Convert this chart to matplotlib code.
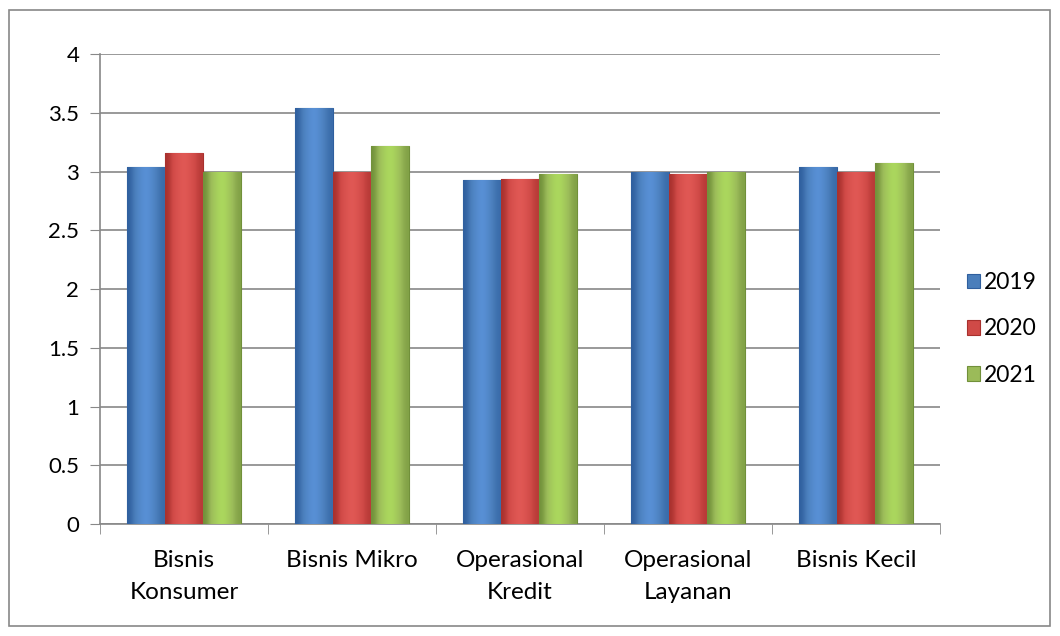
import numpy as np
import matplotlib.pyplot as plt
from matplotlib.patches import Rectangle
from matplotlib.colors import LinearSegmentedColormap

categories = ["Bisnis\nKonsumer", "Bisnis Mikro", "Operasional\nKredit", "Operasional\nLayanan", "Bisnis Kecil"]
years = ["2019", "2020", "2021"]
v2019 = [3.04, 3.54, 2.93, 3.0, 3.04]
v2020 = [3.16, 3.0, 2.94, 2.98, 3.0]
v2021 = [3.0, 3.22, 2.98, 3.0, 3.07]
yticks = [0, 0.5, 1, 1.5, 2, 2.5, 3, 3.5, 4]

colors = ["#4a7ebb", "#d04a47", "#9bbb59"]
dark = ["#2f5f9e", "#a8302d", "#71903a"]
light = ["#5a92d8", "#e25a56", "#addb5e"]

plt.rcParams['font.family'] = ['Lato', 'DejaVu Sans']

fig = plt.figure(figsize=(10.6, 6.36), dpi=100)
ax = fig.add_axes([100/1060, 1 - 524/636, 840/1060, 470/636])

# outer chart border
fig.patches.append(Rectangle((9/1060, 10/636), 1041/1060, 616/636, transform=fig.transFigure,
                             fill=False, edgecolor="#888888", linewidth=1.2))

ax.set_xlim(-0.5, len(categories) - 0.5)
ax.set_ylim(0, 4)

x = np.arange(len(categories))
w = 0.225
grad = np.array([[0.0, 0.55, 0.8, 1.0, 0.8, 0.5, 0.2]])
for i, (vals, c, d, l, lab) in enumerate(zip([v2019, v2020, v2021], colors, dark, light, years)):
    bars = ax.bar(x + (i - 1) * w, vals, width=w, color=c, edgecolor=d, linewidth=0.8, label=lab, zorder=3)
    cmap = LinearSegmentedColormap.from_list("g%d" % i, [d, c, l])
    for b in bars:
        x0, y0 = b.get_x(), b.get_y()
        im = ax.imshow(grad, cmap=cmap, vmin=0, vmax=1, aspect='auto', interpolation='bicubic',
                       extent=[x0, x0 + b.get_width(), y0, y0 + b.get_height()], zorder=3.5)
        im.set_clip_path(b)

ax.set_xlim(-0.5, len(categories) - 0.5)
ax.set_ylim(0, 4)
ax.set_yticks(yticks)
ax.set_yticklabels([f"{t:g}" for t in yticks], fontsize=16)
ax.set_xticks(x)
ax.set_xticklabels(categories, fontsize=17.5, linespacing=1.65)
ax.set_xticks(np.arange(-0.5, len(categories)), minor=True)
ax.tick_params(axis='x', which='major', length=0, pad=19)
ax.tick_params(axis='x', which='minor', length=7, color="#888888", direction='out')
ax.tick_params(axis='y', length=7, color="#888888", direction='out', pad=8)
ax.yaxis.grid(True, color="#888888", linewidth=1.2, zorder=0)
ax.set_axisbelow(True)
for s in ['top', 'right']:
    ax.spines[s].set_visible(False)
for s in ['left', 'bottom']:
    ax.spines[s].set_color("#888888")
    ax.spines[s].set_linewidth(1.2)

ax.legend(loc='center left', bbox_to_anchor=(1.007, 0.415), frameon=False, fontsize=16.5,
          handlelength=0.6, handleheight=0.6, handletextpad=0.15, labelspacing=1.1)

fig.savefig("out.png", dpi=100)
